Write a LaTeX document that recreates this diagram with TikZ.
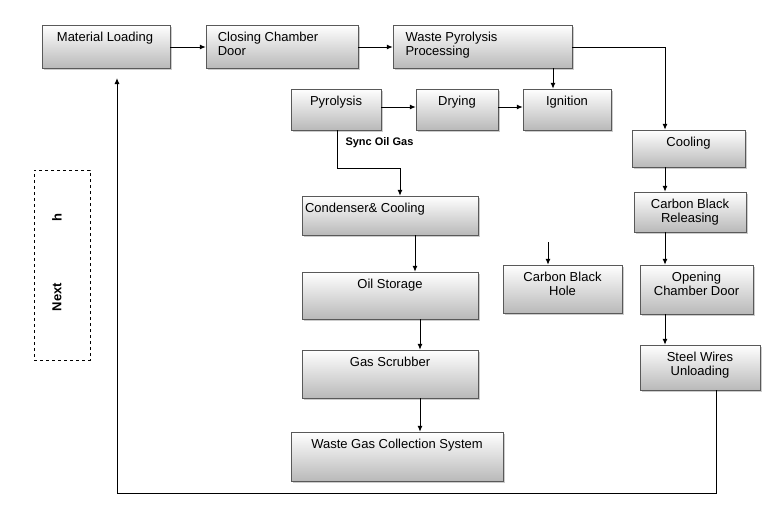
\documentclass[tikz,border=0pt]{standalone}
\usepackage{fontspec}
\setmainfont{Liberation Sans}
\usetikzlibrary{arrows.meta,shadows}
\begin{document}
\begin{tikzpicture}[x=1pt,y=-1pt,
  box/.style={draw=gray!70!black,top color=white,bottom color=gray!55,drop shadow={shadow xshift=1.5pt,shadow yshift=-1.5pt,opacity=.4},inner sep=0pt},
  txt/.style={font=\fontsize{13}{14}\selectfont,inner sep=0pt,anchor=north},
  arr/.style={-{Latex[length=6pt,width=5pt]},line width=1pt}]
\useasboundingbox (0,0) rectangle (781,509);
\newcommand\bx[8]{\node[box,minimum width=#4-#2,minimum height=#5-#3] (#1) at ({(#2+#4)/2},{(#3+#5)/2}) {};
  \node[txt,align=#7] (#1t) at ({(#2+#4)/2+#8},#3+7) {#6};}
\bx{ml}{42}{25}{170}{68}{Material Loading}{center}{-1}
\bx{ccd}{206}{25}{358}{68}{Closing Chamber\\Door}{left}{-14}
\bx{wpp}{393}{25}{572}{68}{Waste Pyrolysis\\Processing}{left}{-31}
\bx{pyr}{291}{89}{381}{130}{Pyrolysis}{center}{0}
\bx{dry}{416}{89}{498}{130}{Drying}{center}{0}
\bx{ign}{523}{89}{611}{130}{Ignition}{center}{0}
\bx{cool}{632}{130}{745}{167}{Cooling}{center}{0}
\bx{cbr}{634}{192}{746}{232}{Carbon Black\\Releasing}{center}{0}
\bx{cond}{302}{196}{478}{235}{Condenser\& Cooling}{center}{-25}
\bx{oil}{302}{272}{478}{319}{Oil Storage}{center}{0}
\bx{gas}{302}{350}{478}{398}{Gas Scrubber}{center}{0}
\bx{wgc}{291}{432}{503}{481}{Waste Gas Collection System}{center}{0}
\bx{cbh}{503}{265}{622}{313}{Carbon Black\\Hole}{center}{0}
\bx{ocd}{640}{265}{753}{314}{Opening\\Chamber Door}{center}{0}
\bx{swu}{640}{345}{760}{390}{Steel Wires\\Unloading}{center}{0}
\node[draw,dashed,line width=0.8pt,minimum width=56pt,minimum height=190pt] (nx) at (62,265) {};
\node[rotate=90,font=\bfseries\fontsize{13}{14}\selectfont] (nt) at (57,297) {Next};
\node[rotate=90,font=\bfseries\fontsize{13}{14}\selectfont] (ht) at (57,218) {h};
\node[font=\bfseries\fontsize{11}{12}\selectfont,anchor=west] (sog) at (342,143) {Sync Oil Gas};
\coordinate (cbhin) at (548,242);
\draw[arr] (ml.east|-0,47) -- (ccd.west|-0,47);
\draw[arr] (ccd.east|-0,47) -- (wpp.west|-0,47);
\draw[arr] (wpp.east|-0,47) -| (cool.north-|665,0);
\draw[arr] (wpp.south-|553,0) -- (ign.north-|553,0);
\draw[arr] (pyr.east|-0,107) -- (dry.west|-0,107);
\draw[arr] (dry.east|-0,107) -- (ign.west|-0,107);
\draw[arr] (pyr.south-|337,0) |- (400,168) -- (cond.north-|400,0);
\draw[arr] (cool.south-|665,0) -- (cbr.north-|665,0);
\draw[arr] (cbr.south-|665,0) -- (ocd.north-|665,0);
\draw[arr] (cbhin) -- (cbh.north-|548,0);
\draw[arr] (cond.south-|415,0) -- (oil.north-|415,0);
\draw[arr] (oil.south-|420,0) -- (gas.north-|420,0);
\draw[arr] (gas.south-|420,0) -- (wgc.north-|420,0);
\draw[arr] (ocd.south-|665,0) -- (swu.north-|665,0);
\draw[arr] (swu.south-|716,0) |- (117,493) -- (117,78);
\end{tikzpicture}
\end{document}
